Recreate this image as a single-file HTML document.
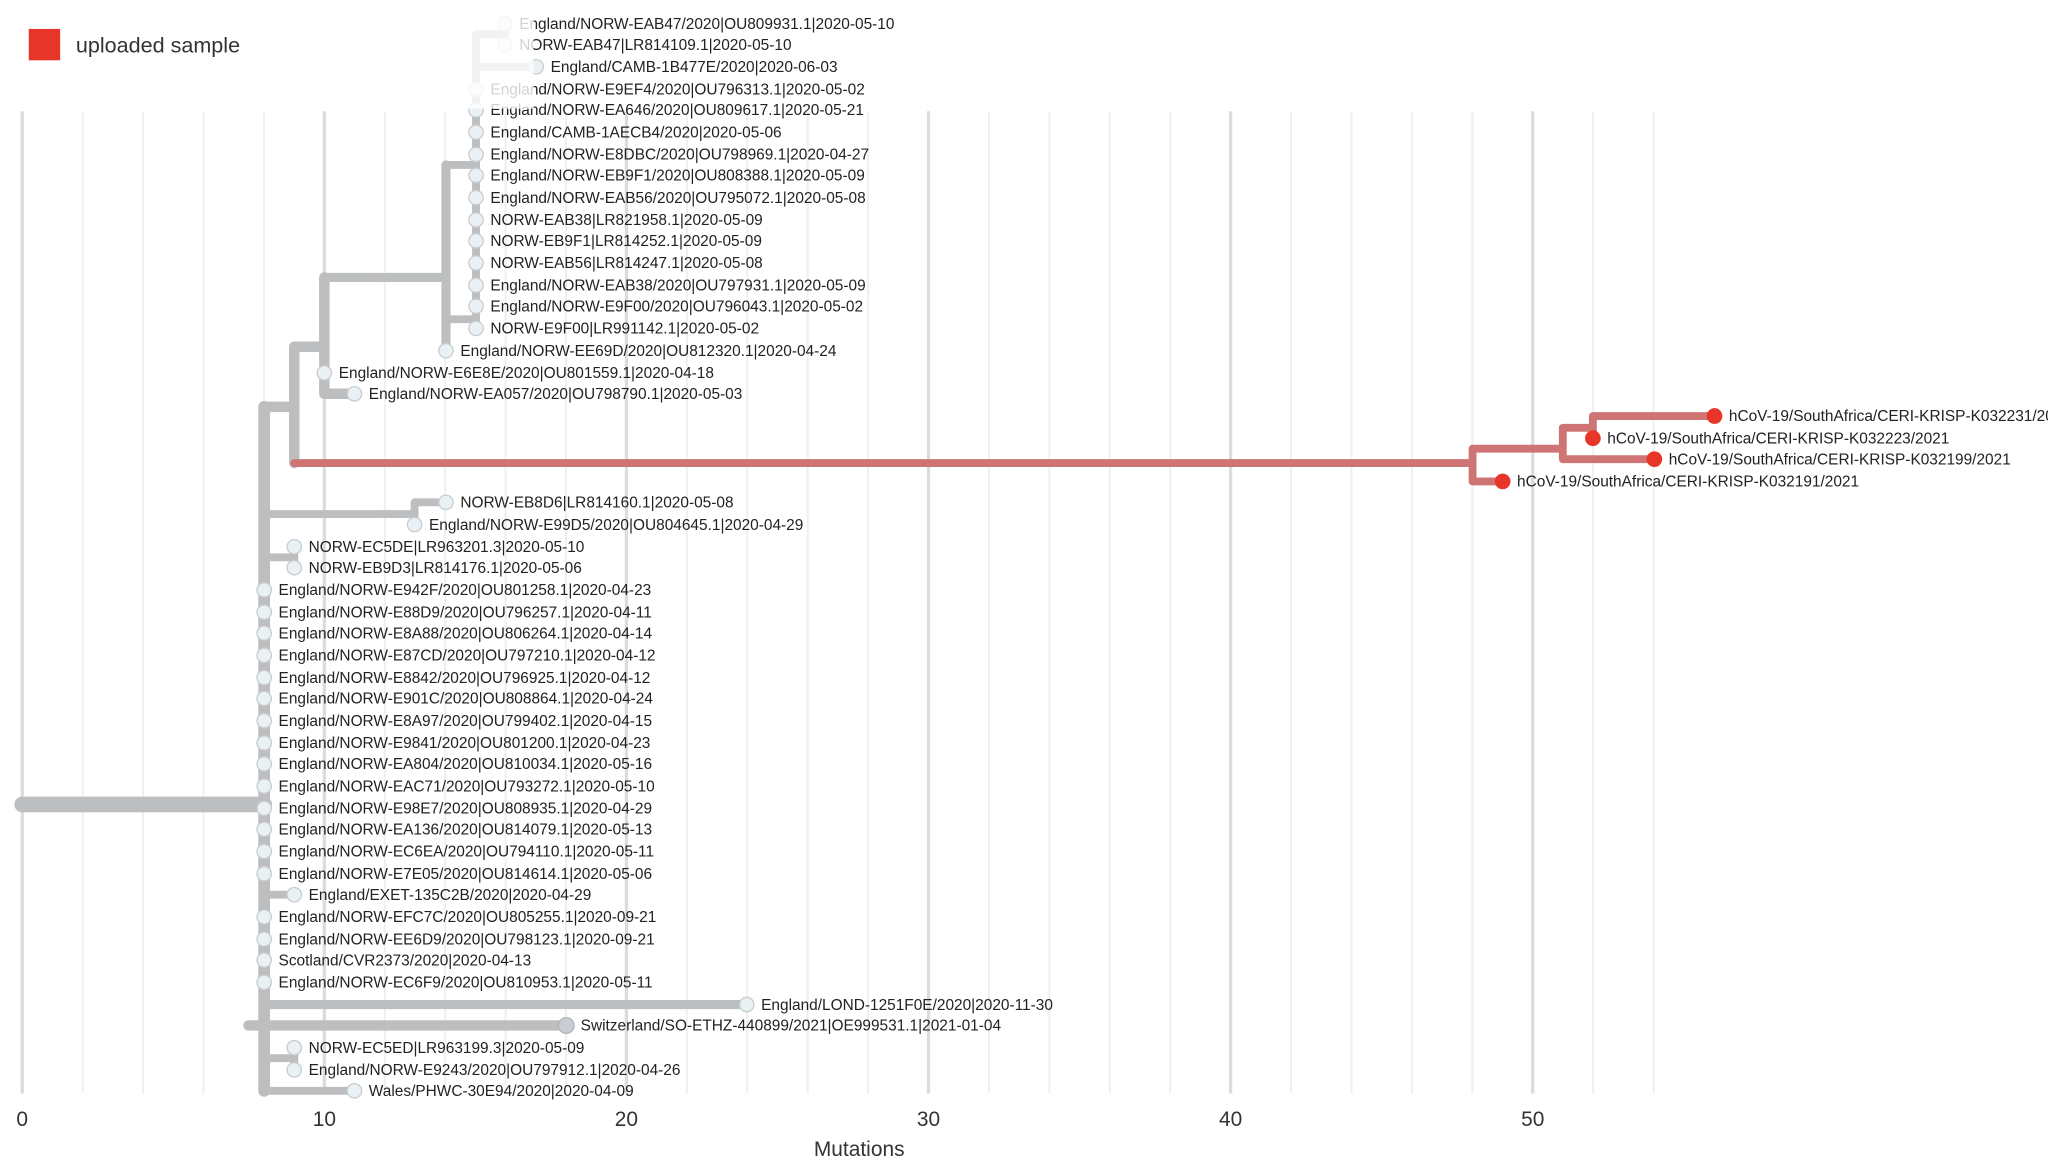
<!DOCTYPE html>
<html><head><meta charset="utf-8"><style>
html,body{margin:0;padding:0;background:#fff;}
svg{display:block;}
text{font-family:"Liberation Sans",sans-serif;}
</style></head><body>
<svg width="2048" height="1176" viewBox="0 0 1566 899" xmlns="http://www.w3.org/2000/svg">
<g id="grid"></g>
<g id="tree" fill="none" stroke-linecap="round" stroke-linejoin="round"></g>
<g id="nodes"></g>
<g id="labels" font-size="11.8" fill="#222"></g>
<rect x="0" y="0" width="408" height="83" fill="#fff" opacity="0.8"/>
<rect x="22" y="22" width="24" height="24" fill="#e8352a"/>
<text x="58" y="40" font-size="16.5" fill="#333">uploaded sample</text>
<g font-size="16" fill="#333" text-anchor="middle">
<text x="17" y="861">0</text><text x="248" y="861">10</text><text x="479" y="861">20</text>
<text x="710" y="861">30</text><text x="941" y="861">40</text><text x="1172" y="861">50</text>
<text x="657" y="884">Mutations</text>
</g>
<script>
const NS="http://www.w3.org/2000/svg";
function X(m){return 17+23.1*m;}
function el(p,t,a){const e=document.createElementNS(NS,t);for(const k in a)e.setAttribute(k,a[k]);document.getElementById(p).appendChild(e);return e;}
for(let m=0;m<=54;m+=2){const maj=m%10==0;el('grid','line',{x1:X(m),x2:X(m),y1:85,y2:836,stroke:maj?'#dcdcdc':'#efefef','stroke-width':maj?2.5:1.5});}
const G='#bdbebf',R='#cf7474';
function P(d,c,w){el('tree','path',{d:d,stroke:c,'stroke-width':w});}
P('M17 615 H202',G,12);
P('M202 311 V834',G,9);
P('M202 311 H225 M225 265 V354',G,8);
P('M225 265 H248 M248 212 V301 M248 301 H271',G,8);
P('M248 212 H341 M341 126 V268',G,7);
P('M341 126 H364 M364 26 V251 M341 244 H364',G,6);
P('M364 26 H386 M386 18 V34 M364 51 H410',G,6);
P('M202 393 H317 M317 384 V401 M317 384 H341',G,6);
P('M202 426 H225 M225 418 V434',G,6);
P('M202 684 H225',G,6);
P('M202 768 H571',G,7);
P('M190 784 H433',G,8);
P('M202 809 H225 M225 801 V818',G,6);
P('M202 834 H271',G,6);
P('M225 354 H1126 M1126 343 V368 M1126 368 H1149 M1126 343 H1195 M1195 327 V351 M1195 351 H1265 M1195 327 H1218 M1218 318 V335 M1218 318 H1311',R,6);
const rows=[
[18,386,'England/NORW-EAB47/2020|OU809931.1|2020-05-10'],
[34,386,'NORW-EAB47|LR814109.1|2020-05-10'],
[51,410,'England/CAMB-1B477E/2020|2020-06-03'],
[68,364,'England/NORW-E9EF4/2020|OU796313.1|2020-05-02'],
[84,364,'England/NORW-EA646/2020|OU809617.1|2020-05-21'],
[101,364,'England/CAMB-1AECB4/2020|2020-05-06'],
[118,364,'England/NORW-E8DBC/2020|OU798969.1|2020-04-27'],
[134,364,'England/NORW-EB9F1/2020|OU808388.1|2020-05-09'],
[151,364,'England/NORW-EAB56/2020|OU795072.1|2020-05-08'],
[168,364,'NORW-EAB38|LR821958.1|2020-05-09'],
[184,364,'NORW-EB9F1|LR814252.1|2020-05-09'],
[201,364,'NORW-EAB56|LR814247.1|2020-05-08'],
[218,364,'England/NORW-EAB38/2020|OU797931.1|2020-05-09'],
[234,364,'England/NORW-E9F00/2020|OU796043.1|2020-05-02'],
[251,364,'NORW-E9F00|LR991142.1|2020-05-02'],
[268,341,'England/NORW-EE69D/2020|OU812320.1|2020-04-24'],
[285,248,'England/NORW-E6E8E/2020|OU801559.1|2020-04-18'],
[301,271,'England/NORW-EA057/2020|OU798790.1|2020-05-03'],
[318,1311,'hCoV-19/SouthAfrica/CERI-KRISP-K032231/2021','r'],
[335,1218,'hCoV-19/SouthAfrica/CERI-KRISP-K032223/2021','r'],
[351,1265,'hCoV-19/SouthAfrica/CERI-KRISP-K032199/2021','r'],
[368,1149,'hCoV-19/SouthAfrica/CERI-KRISP-K032191/2021','r'],
[384,341,'NORW-EB8D6|LR814160.1|2020-05-08'],
[401,317,'England/NORW-E99D5/2020|OU804645.1|2020-04-29'],
[418,225,'NORW-EC5DE|LR963201.3|2020-05-10'],
[434,225,'NORW-EB9D3|LR814176.1|2020-05-06'],
[451,202,'England/NORW-E942F/2020|OU801258.1|2020-04-23'],
[468,202,'England/NORW-E88D9/2020|OU796257.1|2020-04-11'],
[484,202,'England/NORW-E8A88/2020|OU806264.1|2020-04-14'],
[501,202,'England/NORW-E87CD/2020|OU797210.1|2020-04-12'],
[518,202,'England/NORW-E8842/2020|OU796925.1|2020-04-12'],
[534,202,'England/NORW-E901C/2020|OU808864.1|2020-04-24'],
[551,202,'England/NORW-E8A97/2020|OU799402.1|2020-04-15'],
[568,202,'England/NORW-E9841/2020|OU801200.1|2020-04-23'],
[584,202,'England/NORW-EA804/2020|OU810034.1|2020-05-16'],
[601,202,'England/NORW-EAC71/2020|OU793272.1|2020-05-10'],
[618,202,'England/NORW-E98E7/2020|OU808935.1|2020-04-29'],
[634,202,'England/NORW-EA136/2020|OU814079.1|2020-05-13'],
[651,202,'England/NORW-EC6EA/2020|OU794110.1|2020-05-11'],
[668,202,'England/NORW-E7E05/2020|OU814614.1|2020-05-06'],
[684,225,'England/EXET-135C2B/2020|2020-04-29'],
[701,202,'England/NORW-EFC7C/2020|OU805255.1|2020-09-21'],
[718,202,'England/NORW-EE6D9/2020|OU798123.1|2020-09-21'],
[734,202,'Scotland/CVR2373/2020|2020-04-13'],
[751,202,'England/NORW-EC6F9/2020|OU810953.1|2020-05-11'],
[768,571,'England/LOND-1251F0E/2020|2020-11-30'],
[784,433,'Switzerland/SO-ETHZ-440899/2021|OE999531.1|2021-01-04','s'],
[801,225,'NORW-EC5ED|LR963199.3|2020-05-09'],
[818,225,'England/NORW-E9243/2020|OU797912.1|2020-04-26'],
[834,271,'Wales/PHWC-30E94/2020|2020-04-09']];
for(const r of rows){
 const [y,x,t,k]=r;
 if(k=='r')el('nodes','circle',{cx:x,cy:y,r:6,fill:'#e8352a'});
 else if(k=='s')el('nodes','circle',{cx:x,cy:y,r:6,fill:'#c9ccd2',stroke:'#b0b3b8','stroke-width':1});
 else el('nodes','circle',{cx:x,cy:y,r:5.5,fill:'#e9f1f5',stroke:'#c8ccd0','stroke-width':1});
 const e=el('labels','text',{x:x+11,y:y+4});e.textContent=t;
}
</script>
</svg>
</body></html>
